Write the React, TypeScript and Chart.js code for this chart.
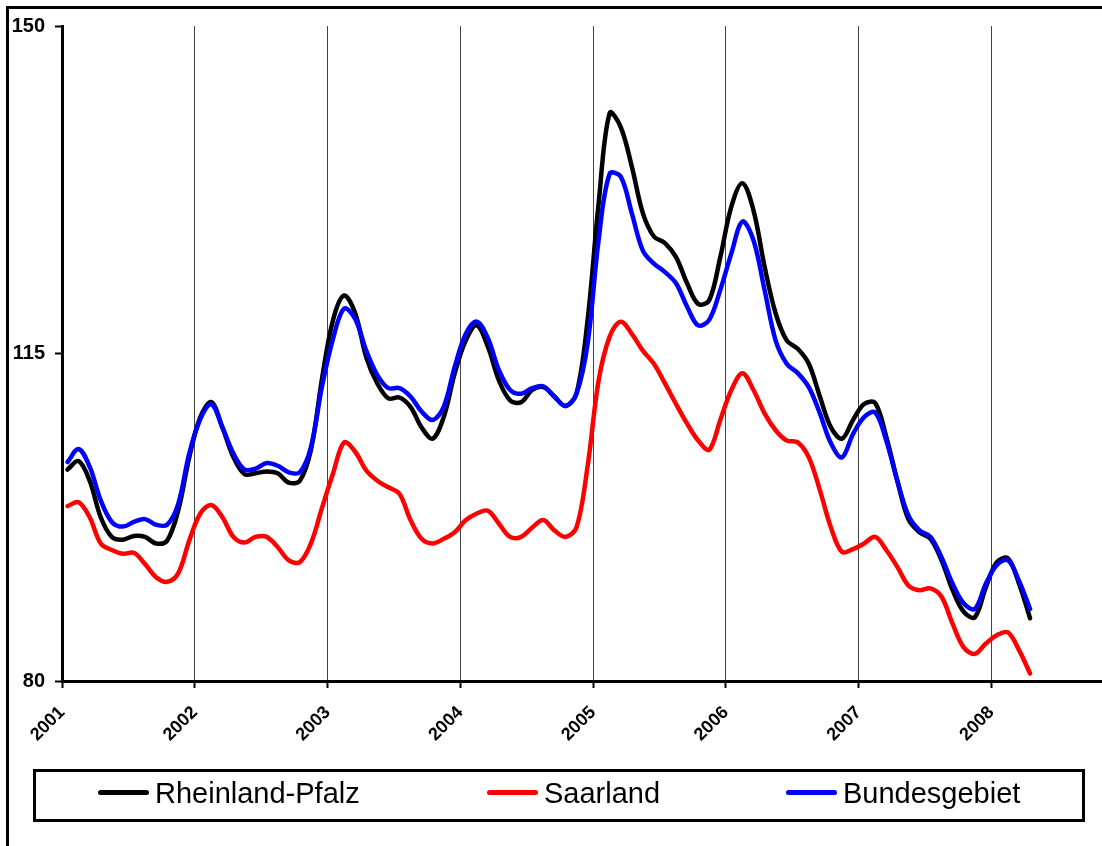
import React, { useEffect, useRef } from 'react';
import { Chart, registerables } from 'chart.js';

Chart.register(...registerables);

// ---- data ----
const years = ['2001', '2002', '2003', '2004', '2005', '2006', '2007', '2008'];
const monthNames = ['Jan', 'Feb', 'Mär', 'Apr', 'Mai', 'Jun', 'Jul', 'Aug', 'Sep', 'Okt', 'Nov', 'Dez'];
// monthly categories Jan 2001 .. Apr 2008
const categories: string[] = [];
years.forEach((y) => monthNames.forEach((m) => categories.push(m + ' ' + y)));
categories.length = 88;

const rheinlandPfalz = [
  102.6, 103.5, 101.4, 97.5, 95.4, 95.1, 95.5, 95.4, 94.7, 95.0, 98.2, 103.9,
  108.2, 109.8, 107.1, 103.9, 102.1, 102.2, 102.4, 102.2, 101.2, 101.4, 104.7, 112.3,
  118.6, 121.2, 119.3, 114.6, 111.8, 110.2, 110.3, 109.3, 107.1, 105.9, 108.2, 112.9,
  116.4, 118.0, 115.7, 112.1, 110.0, 109.8, 111.1, 111.4, 110.4, 109.4, 110.7, 118.5,
  131.0, 140.7, 139.2, 135.0, 130.0, 127.5, 126.8, 125.3, 122.5, 120.3, 120.7, 125.3,
  130.7, 133.2, 130.3, 124.3, 119.3, 116.4, 115.5, 113.9, 110.4, 107.1, 105.9, 107.9,
  109.6, 109.7, 106.1, 101.4, 97.3, 95.9, 95.2, 92.9, 89.7, 87.4, 86.8, 90.0,
  92.7, 93.1, 90.4, 86.7,
];

const saarland = [
  98.7, 99.1, 97.5, 94.7, 94.0, 93.6, 93.7, 92.5, 91.1, 90.6, 91.5, 95.0,
  97.9, 98.8, 97.5, 95.4, 94.8, 95.4, 95.4, 94.3, 92.9, 92.7, 94.7, 98.5,
  102.2, 105.5, 104.5, 102.5, 101.4, 100.7, 100.0, 97.2, 95.2, 94.7, 95.2, 95.9,
  97.2, 97.9, 98.2, 96.8, 95.4, 95.4, 96.4, 97.2, 96.1, 95.4, 96.4, 102.9,
  112.1, 116.8, 118.4, 117.1, 115.3, 113.9, 111.8, 109.6, 107.5, 105.7, 104.7, 107.9,
  111.1, 112.9, 111.1, 108.6, 106.8, 105.7, 105.5, 103.9, 100.4, 96.4, 93.8, 94.1,
  94.7, 95.4, 94.0, 92.2, 90.2, 89.7, 89.9, 89.0, 86.1, 83.6, 82.9, 84.0,
  84.9, 85.2, 83.3, 80.8,
];

const bundesgebiet = [
  103.4, 104.8, 102.9, 99.3, 97.0, 96.5, 97.0, 97.3, 96.7, 96.7, 98.9, 104.3,
  108.0, 109.6, 107.1, 104.3, 102.6, 102.7, 103.3, 103.0, 102.3, 102.3, 105.0, 111.5,
  116.6, 119.8, 118.7, 115.3, 112.7, 111.3, 111.3, 110.4, 108.8, 107.9, 109.3, 113.6,
  117.1, 118.4, 116.6, 113.2, 111.1, 110.7, 111.3, 111.5, 110.4, 109.4, 110.7, 116.0,
  127.1, 134.2, 133.9, 130.0, 126.0, 124.6, 123.7, 122.5, 120.0, 118.0, 118.6, 121.8,
  125.7, 129.1, 127.1, 121.8, 116.4, 113.9, 112.9, 111.4, 108.6, 105.4, 103.9, 106.4,
  108.2, 108.7, 105.7, 101.4, 97.7, 96.1, 95.4, 93.2, 90.4, 88.3, 87.7, 90.4,
  92.4, 92.9, 90.7, 87.7,
];

const yTicks = [80, 115, 150];

const FONT = "'Liberation Sans', Arial, Helvetica, sans-serif";

const legendItems = [
  { label: 'Rheinland-Pfalz', color: '#000000', left: 98 },
  { label: 'Saarland', color: '#ff0000', left: 487 },
  { label: 'Bundesgebiet', color: '#0000ff', left: 786 },
];

export default function App() {
  const ref = useRef<HTMLCanvasElement>(null);

  useEffect(() => {
    if (!ref.current) return;
    const toPts = (arr: number[]) => arr.map((v, i) => ({ x: i + 0.5, y: v }));
    const chart = new Chart(ref.current, {
      type: 'line',
      data: {
        labels: categories,
        datasets: [
          { label: 'Rheinland-Pfalz', data: toPts(rheinlandPfalz), borderColor: '#000000', order: 2 },
          { label: 'Saarland', data: toPts(saarland), borderColor: '#ff0000', order: 1 },
          { label: 'Bundesgebiet', data: toPts(bundesgebiet), borderColor: '#0000ff', order: 0 },
        ],
      },
      options: {
        animation: false,
        responsive: false,
        maintainAspectRatio: false,
        devicePixelRatio: 1,
        layout: { padding: { left: 0, top: 26, right: 0, bottom: 0 } },
        plugins: { legend: { display: false }, tooltip: { enabled: false } },
        elements: {
          point: { radius: 0 },
          line: { tension: 0.35, borderWidth: 4.5, fill: false, borderCapStyle: 'round', borderJoinStyle: 'round' },
        },
        scales: {
          x: {
            type: 'linear',
            min: 0,
            max: 94,
            afterBuildTicks: (s: any) => {
              s.ticks = years.map((_, i) => ({ value: i * 12 }));
            },
            afterFit: (s: any) => {
              s.height = 165;
              s.paddingLeft = 0;
              s.paddingRight = 0;
            },
            ticks: {
              autoSkip: false,
              minRotation: 45,
              maxRotation: 45,
              padding: 14,
              color: '#000000',
              font: { family: FONT, size: 18, weight: 'bold' },
              callback: (v: any) => years[Math.round(Number(v) / 12)] ?? '',
            },
            grid: { color: '#444444', lineWidth: 1, tickLength: 7, tickColor: '#000000', tickWidth: 2 },
            border: { color: '#000000', width: 3 },
          },
          y: {
            type: 'linear',
            min: 80,
            max: 150,
            afterBuildTicks: (s: any) => {
              s.ticks = yTicks.map((v) => ({ value: v }));
            },
            afterFit: (s: any) => {
              s.width = 62;
              s.paddingTop = 0;
              s.paddingBottom = 0;
            },
            ticks: {
              padding: 10,
              color: '#000000',
              font: { family: FONT, size: 20, weight: 'bold' },
            },
            grid: { drawOnChartArea: false, tickLength: 7, tickColor: '#000000', tickWidth: 2 },
            border: { color: '#000000', width: 3 },
          },
        },
      } as any,
    });
    return () => chart.destroy();
  }, []);

  return (
    <div style={{ position: 'absolute', left: 0, top: 0, width: 1102, height: 846, overflow: 'hidden', background: '#ffffff' }}>
      <div
        style={{
          position: 'absolute',
          left: 6,
          top: 6,
          width: 1102 - 6,
          height: 846 - 6,
          borderLeft: '3px solid #000',
          borderTop: '3px solid #000',
          boxSizing: 'border-box',
        }}
      />
      <canvas ref={ref} width={1102} height={846} style={{ position: 'absolute', left: 0, top: 0, width: 1102, height: 846 }} />
      <div
        style={{
          position: 'absolute',
          left: 33,
          top: 769,
          width: 1052,
          height: 53,
          border: '3px solid #000',
          boxSizing: 'border-box',
        }}
      />
      {legendItems.map((it) => (
        <React.Fragment key={it.label}>
          <div
            style={{
              position: 'absolute',
              left: it.left,
              top: 790,
              width: 51,
              height: 5,
              borderRadius: 2.5,
              background: it.color,
            }}
          />
          <div
            style={{
              position: 'absolute',
              left: it.left + 57,
              top: 778.5,
              fontFamily: FONT,
              fontSize: 29,
              lineHeight: '29px',
              color: '#000',
              whiteSpace: 'nowrap',
            }}
          >
            {it.label}
          </div>
        </React.Fragment>
      ))}
    </div>
  );
}
